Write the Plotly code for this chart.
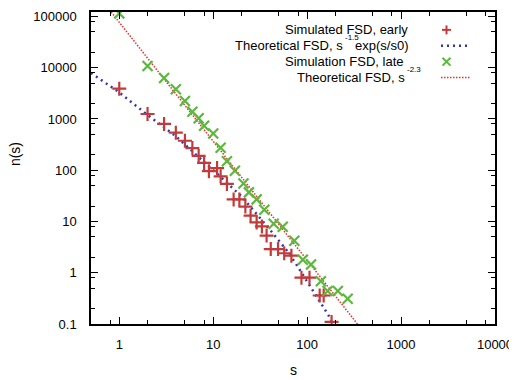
import plotly.graph_objects as go

# ---- data ----
early_s = [1, 2, 3, 4, 5, 6, 7, 8, 9, 11, 12, 14, 16.5, 19, 22, 25, 29, 33, 37, 41, 49, 57, 68, 87, 106, 136, 150, 182]
early_n = [3900, 1250, 800, 540, 376, 270, 190, 139, 96, 110, 76, 54, 27, 27, 19.5, 13, 9.6, 8, 5.3, 2.9, 2.9, 2.4, 2.15, 0.8, 0.8, 0.36, 0.36, 0.11]

late_s = [1, 2, 3, 4, 5, 6, 7, 8, 10, 12, 14, 17, 21, 24, 29, 35, 44, 55, 73, 90, 110, 140, 165, 212, 270]
late_n = [115000, 10800, 6300, 3800, 2250, 1380, 1030, 740, 520, 275, 150, 98, 55, 37, 27, 17, 9, 7.9, 4.2, 1.8, 1.45, 0.68, 0.44, 0.44, 0.31]

theo_early_s = [0.5, 1, 2, 4, 10, 20, 40, 50, 60, 75, 90, 115, 150, 170, 186]
theo_early_n = [7900, 3300, 1200, 460, 100, 31, 7.0, 4.3, 2.8, 1.55, 0.92, 0.45, 0.22, 0.145, 0.1]

theo_late_s = [0.82, 343]
theo_late_n = [122000, 0.1]

x_tickvals = [1, 10, 100, 1000, 10000]
x_ticktext = ["1", "10", "100", "1000", "10000"]
y_tickvals = [0.1, 1, 10, 100, 1000, 10000, 100000]
y_ticktext = ["0.1", "1", "10", "100", "1000", "10000", "100000"]

legend_labels = [
    "Simulated FSD, early",
    "Theoretical FSD, s",
    "Simulation FSD, late",
    "Theoretical FSD, s",
]
legend_sup = [None, "-1.5", None, "-2.3"]
legend_tail = [None, "exp(s/s0)", None, None]

RED = "#c23b3b"
GREEN = "#5cb83c"
BLUE = "#3434b0"
RED_LINE = "#e8302c"
FONT = "Liberation Sans, Arial, sans-serif"

fig = go.Figure()
fig.add_trace(go.Scatter(x=theo_early_s, y=theo_early_n, mode="lines",
                         line=dict(color=BLUE, width=2.5, dash="2px,4px"), showlegend=False))
fig.add_trace(go.Scatter(x=theo_late_s, y=theo_late_n, mode="lines",
                         line=dict(color=RED_LINE, width=1.5, dash="1.5px,1.5px"), showlegend=False))
fig.add_trace(go.Scatter(x=early_s, y=early_n, mode="markers",
                         marker=dict(symbol="cross-thin", size=10, line=dict(color=RED, width=2.2)),
                         showlegend=False))
fig.add_trace(go.Scatter(x=late_s, y=late_n, mode="markers",
                         marker=dict(symbol="x-thin", size=10, line=dict(color=GREEN, width=2.2)),
                         showlegend=False))

minor_vals = []
for d in [0.1, 1, 10, 100, 1000, 10000]:
    for m in (2, 5, 8):
        minor_vals.append(m * d)

axis_common = dict(
    type="log", showgrid=False, zeroline=False, showline=True, linecolor="black", linewidth=1.5,
    mirror="ticks", ticks="inside", ticklen=7, tickwidth=1.2, tickcolor="black",
    tickfont=dict(family=FONT, size=13, color="black"),
    minor=dict(tickmode="array", tickvals=minor_vals, ticks="inside", ticklen=4,
               tickwidth=1.2, tickcolor="black", showgrid=False),
)

# the page body adds an 8px margin, so the figure is 8px smaller and shifted
fig.update_layout(
    width=509, height=372,
    margin=dict(l=83, r=22, t=2, b=56),
    paper_bgcolor="white", plot_bgcolor="white",
    font=dict(family=FONT, size=13, color="black"),
    xaxis=dict(range=[-0.301, 4.0], tickmode="array", tickvals=x_tickvals, ticktext=x_ticktext,
               ticklabelstandoff=8, **axis_common),
    yaxis=dict(range=[-1, 5.087], tickmode="array", tickvals=y_tickvals, ticktext=y_ticktext,
               ticklabelstandoff=10, **axis_common),
    showlegend=False,
)

# geometry of the plot area in page pixels
W, H = 404.0, 314.0
def px(xp):
    return (xp - 91) / W
def py(yp):
    return (324 - yp) / H

# axis titles
fig.add_annotation(text="s", xref="paper", yref="paper", x=px(293), y=py(370),
                   showarrow=False, font=dict(size=14), xanchor="center", yanchor="middle")
fig.add_annotation(text="n(s)", xref="paper", yref="paper", x=px(15), y=py(153), textangle=-90,
                   showarrow=False, font=dict(size=14), xanchor="center", yanchor="middle")

# manual legend (text right aligned, sample on the right, like gnuplot)
rows = [28, 44, 60, 76]
main_right = [410, 345, 406, 407]
for i, yr in enumerate(rows):
    fig.add_annotation(text=legend_labels[i], xref="paper", yref="paper", x=px(main_right[i]), y=py(yr),
                       xanchor="right", yanchor="middle", showarrow=False, font=dict(size=13))
    if legend_sup[i]:
        fig.add_annotation(text=legend_sup[i], xref="paper", yref="paper", x=px(main_right[i] - 1),
                           y=py(yr - 8), xanchor="left", yanchor="middle", showarrow=False,
                           font=dict(size=8), borderpad=0)
    if legend_tail[i]:
        fig.add_annotation(text=legend_tail[i], xref="paper", yref="paper", x=px(410), y=py(yr),
                           xanchor="right", yanchor="middle", showarrow=False, font=dict(size=13))

cx = 446.5
# sample: red plus
fig.add_shape(type="line", xref="paper", yref="paper", x0=px(cx - 4.5), x1=px(cx + 4.5),
              y0=py(rows[0]), y1=py(rows[0]), line=dict(color=RED, width=2))
fig.add_shape(type="line", xref="paper", yref="paper", x0=px(cx), x1=px(cx),
              y0=py(rows[0] - 4.5), y1=py(rows[0] + 4.5), line=dict(color=RED, width=2))
# sample: blue dotted
fig.add_shape(type="line", xref="paper", yref="paper", x0=px(441), x1=px(470),
              y0=py(rows[1]), y1=py(rows[1]), line=dict(color=BLUE, width=2.5, dash="2px,4px"))
# sample: green x
fig.add_shape(type="line", xref="paper", yref="paper", x0=px(cx - 4), x1=px(cx + 4),
              y0=py(rows[2] - 4), y1=py(rows[2] + 4), line=dict(color=GREEN, width=2))
fig.add_shape(type="line", xref="paper", yref="paper", x0=px(cx - 4), x1=px(cx + 4),
              y0=py(rows[2] + 4), y1=py(rows[2] - 4), line=dict(color=GREEN, width=2))
# sample: red dotted
fig.add_shape(type="line", xref="paper", yref="paper", x0=px(441), x1=px(470),
              y0=py(rows[3]), y1=py(rows[3]), line=dict(color=RED_LINE, width=1.5, dash="1.5px,1.5px"))

fig.write_html("out.html")
